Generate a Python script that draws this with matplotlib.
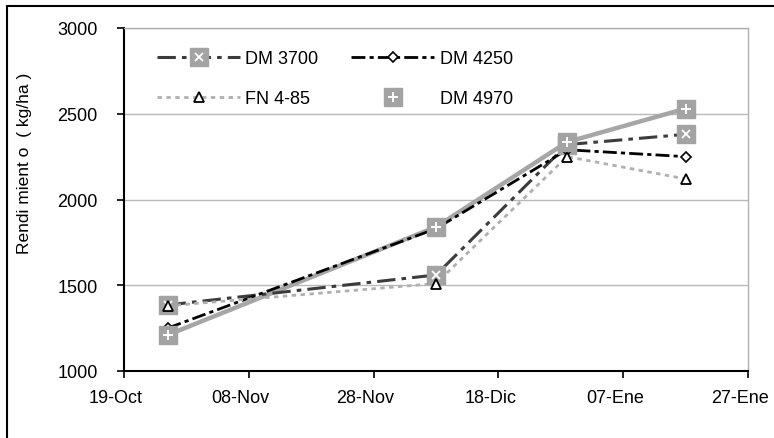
import matplotlib
matplotlib.use("Agg")
import matplotlib.pyplot as plt
import numpy as np
from matplotlib.lines import Line2D
from matplotlib.patches import Rectangle
from matplotlib.legend_handler import HandlerTuple
import matplotlib.transforms as mtransforms

plt.rcParams['font.family'] = ['Liberation Sans', 'DejaVu Sans']

# ---- data ----
dates = np.array(['2000-10-26', '2000-12-08', '2000-12-29', '2001-01-17'], dtype='datetime64[D]')
dm3700 = [1385, 1560, 2320, 2380]
dm4250 = [1250, 1830, 2290, 2250]
fn485 = [1380, 1510, 2250, 2120]
dm4970 = [1210, 1840, 2335, 2530]
series_labels = ['DM 3700', 'DM 4250', 'FN 4-85', 'DM 4970']
tick_dates = np.array(['2000-10-19', '2000-11-08', '2000-11-28', '2000-12-18',
                       '2001-01-07', '2001-01-27'], dtype='datetime64[D]')
tick_labels = ['19-Oct', '08-Nov', '28-Nov', '18-Dic', '07-Ene', '27-Ene']
y_ticks = [1000, 1500, 2000, 2500, 3000]
y_label = 'Rendi mient o  ( kg/ha )'

# ---- styles ----
C3700 = '#3c3c3c'
C4250 = '#000000'
CFN = '#b0b0b0'
C4970 = '#a6a6a6'
CMARK = '#a3a3a3'
D3700 = (6, 2, 1.5, 2)
D4250 = (5, 1.5, 1.5, 1.5)
DFN = (1.6, 1.6)

fig = plt.figure(figsize=(7.74, 4.39), dpi=100)
ax = fig.add_axes([124/774, 1-372/439, (748-124)/774, (372-29)/439])

# lines
ax.plot(dates, dm4970, color=C4970, lw=3.2, solid_capstyle='butt', zorder=2)
ax.plot(dates, dm3700, color=C3700, lw=2.2, dashes=D3700, zorder=2.5)
ax.plot(dates, dm4250, color=C4250, lw=2.0, dashes=D4250, zorder=2.6)
ax.plot(dates, fn485, color=CFN, lw=2.0, dashes=DFN, zorder=2.7)

# markers
ax.plot(dates, dm3700, ls='none', marker='s', ms=13, mfc=CMARK, mec=CMARK, zorder=4)
ax.plot(dates, dm3700, ls='none', marker='x', ms=6, mec='white', mew=1.3, zorder=4.1)
ax.plot(dates, dm4250, ls='none', marker='D', ms=5, mfc='white', mec='black', mew=1.2, zorder=4.2)
ax.plot(dates, fn485, ls='none', marker='^', ms=7, mfc='white', mec='black', mew=1.3, zorder=4.5)
ax.plot(dates, dm4970, ls='none', marker='s', ms=13, mfc=CMARK, mec=CMARK, zorder=5)
ax.plot(dates, dm4970, ls='none', marker='+', ms=7, mec='white', mew=1.4, zorder=5.1)

# axes
ax.set_xlim(tick_dates[0], tick_dates[-1])
ax.set_ylim(y_ticks[0], y_ticks[-1])
ax.set_xticks(tick_dates)
ax.set_xticklabels(tick_labels)
ax.set_yticks(y_ticks)
ax.set_yticklabels([str(v) for v in y_ticks])
ax.yaxis.grid(True, color='#b8b8b8', lw=1)
ax.set_axisbelow(True)
for s in ['left', 'bottom']:
    ax.spines[s].set_color('black')
    ax.spines[s].set_linewidth(1.5)
for s in ['top', 'right']:
    ax.spines[s].set_color('#b0b0b0')
    ax.spines[s].set_linewidth(1.0)
ax.tick_params(axis='y', direction='out', length=5, width=1.2, pad=14, labelsize=13)
ax.tick_params(axis='x', direction='out', length=5, width=1.2, pad=8, labelsize=13)
off = mtransforms.ScaledTranslation(-8/100, 0, fig.dpi_scale_trans)
for lab in ax.get_xticklabels():
    lab.set_transform(lab.get_transform() + off)

fig.text(25/774, 1-163/439, y_label, rotation=90, va='center', ha='center', fontsize=12.5)

# outer frame (left and top edges visible)
fig.patches.append(Rectangle((7/774, -0.1), 1.2, 1-7/439+0.1, transform=fig.transFigure,
                             fill=False, ec='black', lw=1.5))

# legend
h3700 = (Line2D([], [], color=C3700, lw=2.2, dashes=D3700),
         Line2D([], [], ls='none', marker='s', ms=13, mfc=CMARK, mec=CMARK),
         Line2D([], [], ls='none', marker='x', ms=6, mec='white', mew=1.3))
h4250 = (Line2D([], [], color=C4250, lw=2.0, dashes=D4250),
         Line2D([], [], ls='none', marker='D', ms=5, mfc='white', mec='black', mew=1.2))
hfn = (Line2D([], [], color=CFN, lw=2.0, dashes=DFN),
       Line2D([], [], ls='none', marker='^', ms=7, mfc='white', mec='black', mew=1.3))
h4970 = (Line2D([], [], ls='none', marker='s', ms=13, mfc=CMARK, mec=CMARK),
         Line2D([], [], ls='none', marker='+', ms=7, mec='white', mew=1.4))
fig.legend([h3700, hfn, h4250, h4970],
           [series_labels[0], series_labels[2], series_labels[1], series_labels[3]],
           ncol=2, loc='upper left', bbox_to_anchor=(157/774, 1-51/439),
           frameon=False, borderpad=0, borderaxespad=0, handlelength=4.6,
           handletextpad=0.3, columnspacing=1.8, labelspacing=1.3, fontsize=13,
           handler_map={tuple: HandlerTuple(ndivide=1)})

fig.savefig('out.png', dpi=100)
